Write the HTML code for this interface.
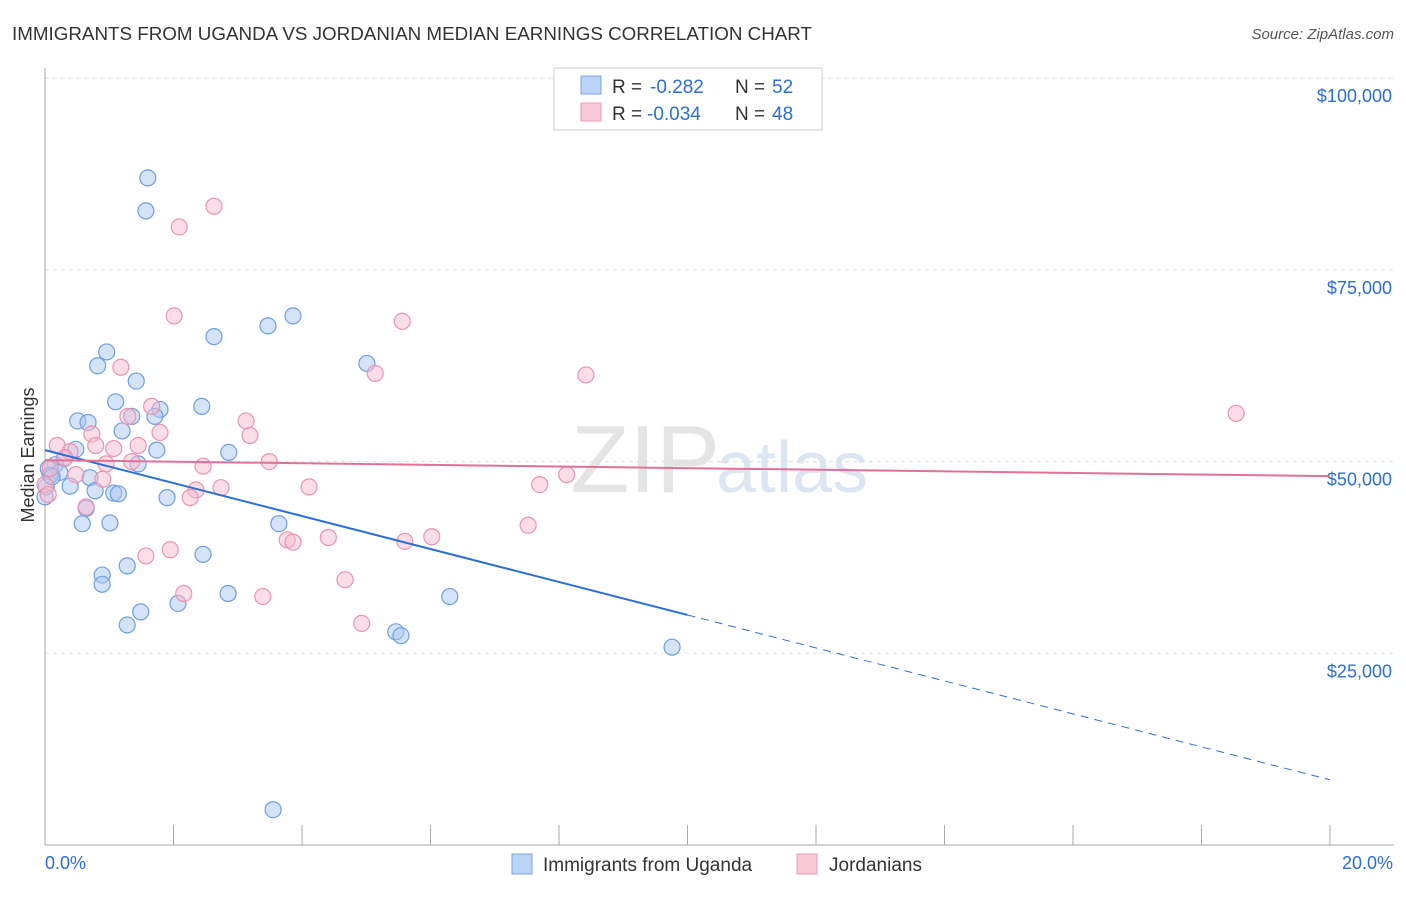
<!DOCTYPE html>
<html><head><meta charset="utf-8"><style>
body{margin:0;background:#fff;font-family:"Liberation Sans",sans-serif}
svg text{font-family:"Liberation Sans",sans-serif}
</style></head><body>
<svg id="c" width="1406" height="892">
<text x="12" y="40" font-size="18" fill="#333" textLength="800" lengthAdjust="spacingAndGlyphs">IMMIGRANTS FROM UGANDA VS JORDANIAN MEDIAN EARNINGS CORRELATION CHART</text>
<text x="1394" y="39" font-size="15" fill="#555" font-style="italic" text-anchor="end">Source: ZipAtlas.com</text>
<text x="720" y="492" font-size="96" fill="#e4e4e4" text-anchor="end" font-family="Liberation Serif">ZIP</text>
<text x="716" y="492" font-size="72" fill="#dce6f3">atlas</text>
<text transform="translate(34,455) rotate(-90)" font-size="18" fill="#333" text-anchor="middle">Median Earnings</text>
<g id="grid"></g><g id="marks"></g>
<g>
<rect x="554" y="68" width="268" height="62" fill="#fff" stroke="#ccc"/>
<rect x="581" y="76" width="20" height="18" fill="#b9d3f5" stroke="#7aa6e0"/>
<rect x="581" y="103" width="20" height="18" fill="#f9c8d7" stroke="#ec9ab5"/>
<text x="612" y="93" font-size="19" fill="#333">R =</text><text x="650" y="93" font-size="19" fill="#2a6fd4">-0.282</text>
<text x="735" y="93" font-size="19" fill="#333">N =</text><text x="772" y="93" font-size="19" fill="#2a6fd4">52</text>
<text x="612" y="120" font-size="19" fill="#333">R =</text><text x="647" y="120" font-size="19" fill="#2a6fd4">-0.034</text>
<text x="735" y="120" font-size="19" fill="#333">N =</text><text x="772" y="120" font-size="19" fill="#2a6fd4">48</text>
</g>
<g>
<rect x="512" y="854" width="20" height="20" fill="#b9d3f5" stroke="#7aa6e0"/>
<text x="543" y="871" font-size="19" fill="#333">Immigrants from Uganda</text>
<rect x="797" y="854" width="20" height="20" fill="#f9c8d7" stroke="#ec9ab5"/>
<text x="829" y="871" font-size="19" fill="#333">Jordanians</text>
</g>
</svg>
<script>
const xTicks=[0,2,4,6,8,10,12,14,16,18,20];
const yTicks=[25000,50000,75000,100000];
const yTickLabels=["$25,000","$50,000","$75,000","$100,000"];
const ugandaX=[1.6,1.57,3.86,3.47,2.63,0.96,0.82,5.01,1.42,1.1,2.44,1.79,1.35,1.71,0.51,0.67,1.2,0.48,2.86,1.74,0.3,0.16,0.05,0.23,0.7,0.08,1.45,0.39,0.78,1.07,1.14,1.9,0.64,0.58,1.01,3.64,2.46,1.28,0.89,0.89,2.85,6.3,2.07,1.49,1.28,5.46,5.54,9.76,3.55,0.02,0.11,0.0];
const ugandaY=[87000,82700,69000,67700,66300,64300,62500,62800,60500,57800,57200,56800,55900,55900,55300,55100,54000,51600,51200,51500,50400,49600,49100,48600,47900,48200,49700,46800,46200,45900,45800,45300,43900,41900,42000,41900,37900,36400,35200,34000,32800,32400,31500,30400,28700,27800,27300,25800,4600,46700,48000,45400];
const jordX=[2.63,2.09,2.01,5.56,1.18,5.14,8.42,18.54,1.66,1.29,3.13,1.79,0.73,3.19,0.19,0.79,1.45,1.07,0.39,0.31,0.95,1.35,3.49,2.46,0.08,0.48,0.9,8.12,7.7,2.74,4.11,2.35,2.26,0.64,7.52,3.77,4.41,3.86,6.02,5.6,1.57,1.95,4.67,2.16,3.39,4.93,0.0,0.05];
const jordY=[83300,80600,69000,68300,62300,61500,61300,56300,57200,55900,55300,53800,53600,53400,52100,52100,52100,51700,51300,50500,49700,50000,50000,49400,49100,48300,47700,48300,47000,46600,46700,46300,45300,44100,41700,39800,40100,39500,40200,39600,37700,38500,34600,32800,32400,28900,47000,45700];
const X=v=>45+v/20*1285, Y=v=>845-v/25000*191.7;
const NS='http://www.w3.org/2000/svg';
function mk(t,a,p){const e=document.createElementNS(NS,t);for(const k in a)e.setAttribute(k,a[k]);p.appendChild(e);return e;}
const g=document.getElementById('grid'),m=document.getElementById('marks');
yTicks.forEach((t,i)=>{
 const l=mk('line',{x1:45,x2:1394,y1:Y(t),y2:Y(t),stroke:'#ddd','stroke-dasharray':'4,4'},g);
 
 
 const tx=mk('text',{x:1392,y:Y(t)+24,'font-size':18,fill:'#2a6fd4','text-anchor':'end'},g);tx.textContent=yTickLabels[i];
 
 
});
mk('line',{x1:45,x2:45,y1:68,y2:845,stroke:'#aaa'},g);
mk('line',{x1:45,x2:1394,y1:845,y2:845,stroke:'#aaa'},g);
xTicks.forEach(t=>{const l=mk('line',{x1:X(t),x2:X(t),y1:825,y2:845,stroke:'#aaa'},g);
 
 });
let a=mk('text',{x:45,y:869,'font-size':18,fill:'#2a6fd4'},g);a.textContent='0.0%';


a=mk('text',{x:1393,y:869,'font-size':18,fill:'#2a6fd4','text-anchor':'end'},g);a.textContent='20.0%';


function dots(xs,ys,fill,stroke,name){xs.forEach((x,i)=>{const c=mk('circle',{cx:X(x),cy:Y(ys[i]),r:8,fill:fill,'fill-opacity':0.5,stroke:stroke,'stroke-width':1.2},m);
 
 });}
dots(ugandaX,ugandaY,'#a9c8f0','#6d9ee0','uganda-point');
dots(jordX,jordY,'#f7bcd0','#ea93b1','jordanian-point');
const bA=51500,bB=-2150,pA=50200,pB=-105;
let l=mk('line',{x1:X(0),y1:Y(bA),x2:X(10),y2:Y(bA+bB*10),stroke:'#2a6fd4','stroke-width':2},m);


l=mk('line',{x1:X(10),y1:Y(bA+bB*10),x2:X(20),y2:Y(bA+bB*20),stroke:'#2a6fd4','stroke-width':1,'stroke-dasharray':'8,6'},m);


l=mk('line',{x1:X(0),y1:Y(pA),x2:X(20),y2:Y(pA+pB*20),stroke:'#e4709a','stroke-width':2},m);


</script>
</body></html>
